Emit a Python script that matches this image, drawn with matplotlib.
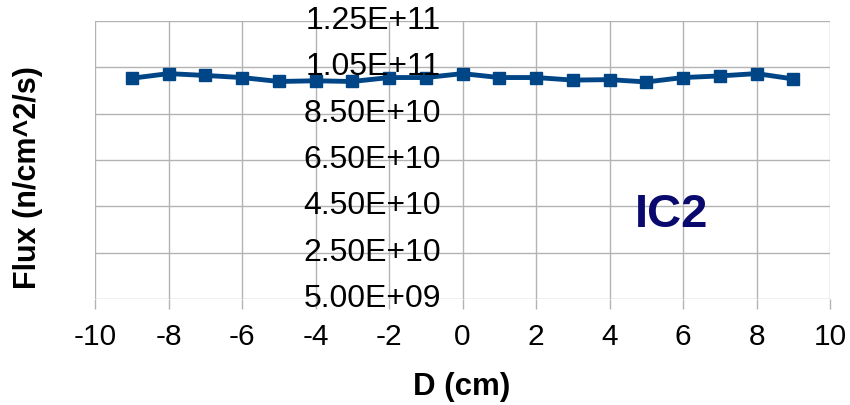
import matplotlib
matplotlib.use("Agg")
import matplotlib.pyplot as plt
import numpy as np

plt.rcParams['font.family'] = ['Liberation Sans', 'DejaVu Sans']

# flux profile across the channel
d_cm = [-9, -8, -7, -6, -5, -4, -3, -2, -1, 0, 1, 2, 3, 4, 5, 6, 7, 8, 9]
flux = [1.003e11, 1.023e11, 1.015e11, 1.006e11, 9.89e10, 9.92e10, 9.89e10,
        1.006e11, 1.006e11, 1.023e11, 1.006e11, 1.006e11, 9.95e10, 9.97e10,
        9.87e10, 1.006e11, 1.013e11, 1.023e11, 1.0e11]

y_ticks = [5e9, 2.5e10, 4.5e10, 6.5e10, 8.5e10, 1.05e11, 1.25e11]
x_ticks = [-10, -8, -6, -4, -2, 0, 2, 4, 6, 8, 10]
grid_col = '#b3b3b3'

fig = plt.figure(figsize=(8.5, 4.05), dpi=100)
ax = fig.add_axes([0.1118, 0.2617, 0.8647, 0.6864])

ax.plot(d_cm, flux, color='#004586', lw=3.5, marker='s', ms=8.5,
        zorder=2)

ax.set_xlim(-10, 10)
ax.set_ylim(5e9, 1.25e11)
ax.set_xticks(x_ticks)
ax.set_xticklabels([str(v) for v in x_ticks])
ax.set_yticks(y_ticks)
ax.set_yticklabels([])
ax.tick_params(axis='x', length=7.2, width=1, color=grid_col, pad=10,
               labelsize=21.5)
ax.tick_params(axis='y', length=0)
ax.grid(True, color=grid_col, lw=1)
for s in ax.spines.values():
    s.set_visible(False)

# y labels sit on the axis crossing at x = 0
for v in y_ticks:
    ax.text(-0.58, v, '%.2E' % v, ha='right', va='center', fontsize=23,
            color='black', zorder=3)

ax.text(0.785, 0.304, 'IC2', transform=ax.transAxes, ha='center',
        va='center', fontsize=34, fontweight='bold', color='#0a0a6e')

fig.text(0.033, 0.5617, 'Flux (n/cm^2/s)', rotation=90, ha='center',
         va='center', fontsize=22, fontweight='bold')
fig.text(0.543, 0.0444, 'D (cm)', ha='center', va='center', fontsize=22.5,
         fontweight='bold')

fig.savefig('out.png', dpi=100)
